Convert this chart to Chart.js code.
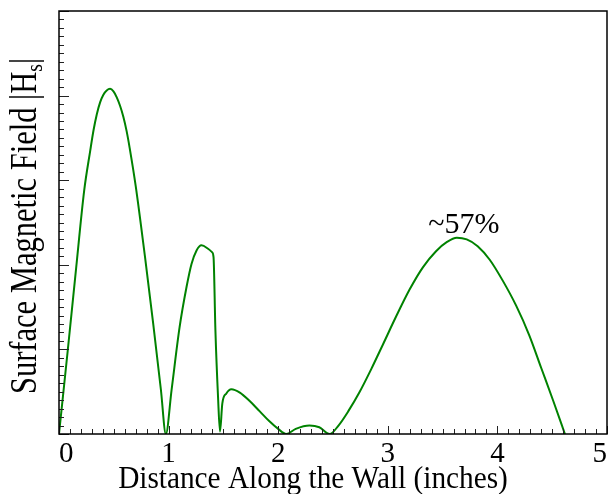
<!DOCTYPE html>
<html>
<head>
<meta charset="utf-8">
<script src="https://cdn.jsdelivr.net/npm/chart.js@4"></script>
<style>
  body { margin: 0; background: #fff; }
  #wrap { width: 610px; height: 494px; }
</style>
</head>
<body>
<div id="wrap"><canvas id="field" width="610" height="494"></canvas></div>
<script>

// distance along the wall (inches) and surface field
var distance = [0.00, 0.08, 0.157, 0.23, 0.285, 0.315, 0.345, 0.375, 0.405, 0.435, 0.466, 0.497, 0.527, 0.557,
  0.587, 0.617, 0.645, 0.70, 0.785, 0.86, 0.93, 0.975, 1.027, 1.10, 1.164, 1.209, 1.255, 1.30, 1.36, 1.396,
  1.41, 1.427, 1.451, 1.469, 1.49, 1.527, 1.573, 1.65, 1.74, 1.83, 1.92, 2.00, 2.073, 2.16,
  2.285, 2.375, 2.47, 2.55, 2.64, 2.74, 2.85, 2.96, 3.08, 3.20, 3.32, 3.44, 3.54, 3.63, 3.72,
  3.82, 3.93, 4.05, 4.17, 4.29, 4.40, 4.51, 4.616];
var field = [0.00, 0.99, 1.97, 2.88, 3.35, 3.59, 3.78, 3.92, 4.01, 4.06, 4.08, 4.05, 3.98, 3.88,
  3.75, 3.58, 3.38, 2.93, 2.09, 1.30, 0.52, 0.00, 0.52, 1.26, 1.74, 2.01, 2.17, 2.23, 2.19, 2.15,
  2.09, 1.23, 0.44, 0.03, 0.36, 0.48, 0.53, 0.49, 0.39, 0.27, 0.15, 0.06, 0.00, 0.06,
  0.10, 0.08, 0.00, 0.10, 0.27, 0.49, 0.77, 1.07, 1.40, 1.71, 1.97, 2.16, 2.27, 2.32, 2.30,
  2.22, 2.06, 1.81, 1.52, 1.17, 0.78, 0.39, 0.00];

var xTickLabels = ["0", "1", "2", "3", "4", "5"];
var peakNote = "~57%";
var peakAt = [3.63, 2.32];

var xTitle = "Distance Along the Wall (inches)";
var yTitle = "Surface Magnetic Field |H";

var serif = "'Liberation Serif', 'Times New Roman', serif";

var points = [];
for (var i = 0; i < distance.length; i++) {
  points.push({x: distance[i], y: field[i]});
}

// inward tick marks, frame, titles and the peak note
var decor = {
  id: "decor",
  afterDraw: function (chart) {
    var ctx = chart.ctx;
    var a = chart.chartArea;
    var sx = chart.scales.x;
    var sy = chart.scales.y;

    ctx.save();
    ctx.strokeStyle = "#222";
    ctx.lineWidth = 1;
    for (var t = 0; t <= 50; t++) {
      var v = t / 10;
      var px = Math.round(sx.getPixelForValue(v)) + 0.5;
      var len = (t % 10 == 0) ? 8 : 5;
      ctx.beginPath();
      ctx.moveTo(px, a.bottom);
      ctx.lineTo(px, a.bottom - len);
      ctx.stroke();

      var py = Math.round(sy.getPixelForValue(v)) + 0.5;
      len = (t % 10 == 0) ? 10 : 5;
      ctx.beginPath();
      ctx.moveTo(a.left, py);
      ctx.lineTo(a.left + len, py);
      ctx.stroke();
    }

    ctx.strokeStyle = "#000";
    ctx.lineWidth = 1.5;
    ctx.strokeRect(a.left, a.top, a.right - a.left, a.bottom - a.top);

    ctx.fillStyle = "#000";

    // x title
    ctx.font = "31px " + serif;
    ctx.textAlign = "center";
    ctx.textBaseline = "alphabetic";
    ctx.save();
    ctx.translate(313, 488);
    ctx.scale(0.945, 1);
    ctx.fillText(xTitle, 0, 0);
    ctx.restore();

    // y title with subscript
    ctx.save();
    ctx.translate(36, 226);
    ctx.rotate(-Math.PI / 2);
    ctx.scale(0.825, 1);
    ctx.font = "37px " + serif;
    var w1 = ctx.measureText(yTitle).width;
    ctx.font = "24px " + serif;
    var w2 = ctx.measureText("s").width;
    ctx.font = "37px " + serif;
    var w3 = ctx.measureText("|").width;
    var x0 = -(w1 + w2 + w3) / 2;
    ctx.textAlign = "left";
    ctx.fillText(yTitle, x0, 0);
    ctx.font = "24px " + serif;
    ctx.fillText("s", x0 + w1, 6);
    ctx.font = "37px " + serif;
    ctx.fillText("|", x0 + w1 + w2, 0);
    ctx.restore();

    // note over the last peak
    ctx.font = "30px " + serif;
    ctx.textAlign = "center";
    ctx.fillText(peakNote, sx.getPixelForValue(peakAt[0]) + 7, sy.getPixelForValue(peakAt[1]) - 5);
    ctx.restore();
  }
};

var ctx = document.getElementById("field");

new Chart(ctx, {
  type: "scatter",
  data: {
    datasets: [{
      data: points,
      showLine: true,
      borderColor: "rgb(0, 130, 0)",
      borderWidth: 2,
      pointRadius: 0,
      cubicInterpolationMode: "monotone",
      fill: false
    }]
  },
  options: {
    responsive: false,
    animation: false,
    layout: { padding: { top: 11, right: 3, left: 0, bottom: 0 } },
    plugins: {
      legend: { display: false },
      tooltip: { enabled: false }
    },
    scales: {
      x: {
        type: "linear",
        min: 0,
        max: 5,
        grid: { display: false, drawTicks: false },
        border: { display: false },
        ticks: {
          stepSize: 0.1,
          autoSkip: false,
          maxRotation: 0,
          align: "inner",
          padding: 3,
          color: "#000",
          font: { family: serif, size: 29 },
          callback: function (value) {
            var r = Math.round(value);
            return Math.abs(value - r) < 1e-6 ? xTickLabels[r] : "";
          }
        },
        afterFit: function (scale) { scale.height = 60; }
      },
      y: {
        min: 0,
        max: 5,
        grid: { display: false, drawTicks: false },
        border: { display: false },
        ticks: { display: false },
        afterFit: function (scale) { scale.width = 59; }
      }
    }
  },
  plugins: [decor]
});
</script>
</body>
</html>
